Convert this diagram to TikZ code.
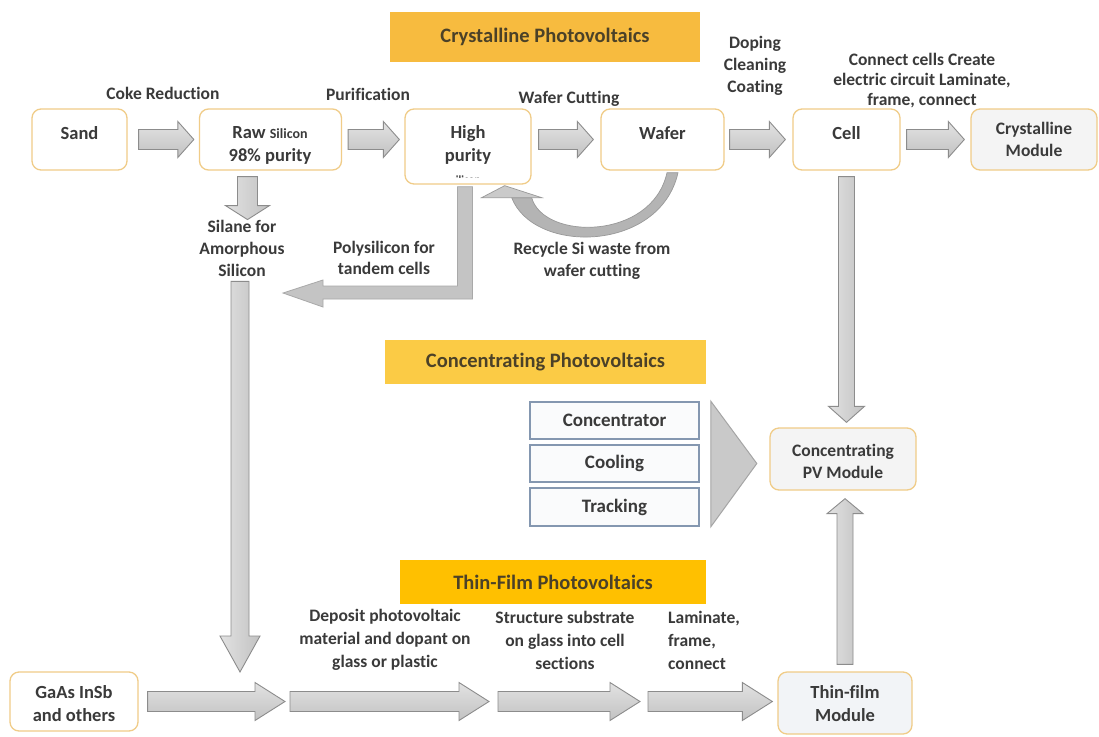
\documentclass[tikz,border=0pt]{standalone}
\usepackage{fontspec}
\setmainfont{Carlito}[Ligatures=NoCommon]
\usetikzlibrary{calc}
\definecolor{txt}{HTML}{3A3A3A}
\definecolor{boxline}{HTML}{F0CC88}
\definecolor{modfill}{HTML}{F4F4F4}
\definecolor{thinfill}{HTML}{F2F4F7}
\definecolor{arrtop}{HTML}{E2E2E2}
\definecolor{arrbot}{HTML}{C2C2C2}
\definecolor{arrline}{HTML}{8C8C8C}
\definecolor{banAcol}{HTML}{F7BB3F}
\definecolor{banBcol}{HTML}{FBCB45}
\definecolor{banCcol}{HTML}{FFC000}
\definecolor{bantxt}{HTML}{4B4128}
\definecolor{cpvline}{HTML}{8497B0}
\definecolor{cpvfill}{HTML}{FAFBFC}
\definecolor{trifill}{HTML}{C9C9C9}
\definecolor{triline}{HTML}{A5A5A5}
\definecolor{lfill}{HTML}{C4C4C4}
\definecolor{lline}{HTML}{A9A9A9}
\definecolor{recfill}{HTML}{B4B4B4}
\definecolor{recline}{HTML}{999999}
\definecolor{rechead}{HTML}{CACACA}

\tikzset{
 procbox/.style={draw=boxline, line width=1.3pt, rounded corners=9pt, fill=white, inner sep=0pt},
 modbox/.style={procbox, fill=modfill},
 boxtext/.style={font=\bfseries\fontsize{18.5}{23}\selectfont, text=txt, align=center, inner sep=0pt},
 lbl/.style={font=\bfseries\fontsize{17.5}{22}\selectfont, text=txt, align=center, inner sep=0pt},
 banner/.style={inner sep=0pt, font=\bfseries\fontsize{20.5}{24}\selectfont, text=bantxt},
 cpvbox/.style={draw=cpvline, line width=1.6pt, fill=cpvfill, inner sep=0pt, minimum width=169pt, font=\bfseries\fontsize{19}{22}\selectfont, text=txt},
 blockarrow/.style={draw=arrline, line width=0.9pt, line join=miter},
 hshade/.style={top color=arrtop, bottom color=arrbot},
 vshade/.style={left color=arrtop, right color=arrbot},
 ash/.code={\def\aSH{#1}}, ahh/.code={\def\aHH{#1}}, ahl/.code={\def\aHL{#1}},
 ags/.code={\def\aGS{#1}}, age/.code={\def\aGE{#1}},
 ash=10pt, ahh=18pt, ahl=16pt, ags=6pt, age=6pt,
 rarrow/.style={blockarrow, hshade, to path={let \p1=(\tikztostart), \p2=(\tikztotarget) in
   (\x1+\aGS,\y1+\aSH) -- (\x2-\aGE-\aHL,\y1+\aSH) -- (\x2-\aGE-\aHL,\y1+\aHH) -- (\x2-\aGE,\y1) -- (\x2-\aGE-\aHL,\y1-\aHH) -- (\x2-\aGE-\aHL,\y1-\aSH) -- (\x1+\aGS,\y1-\aSH) -- cycle}},
 darrow/.style={blockarrow, vshade, to path={let \p1=(\tikztostart), \p2=(\tikztotarget) in
   (\x1-\aSH,\y1-\aGS) -- (\x1-\aSH,\y2+\aGE+\aHL) -- (\x1-\aHH,\y2+\aGE+\aHL) -- (\x1,\y2+\aGE) -- (\x1+\aHH,\y2+\aGE+\aHL) -- (\x1+\aSH,\y2+\aGE+\aHL) -- (\x1+\aSH,\y1-\aGS) -- cycle}},
 uarrow/.style={blockarrow, vshade, to path={let \p1=(\tikztostart), \p2=(\tikztotarget) in
   (\x1-\aSH,\y1+\aGS) -- (\x1-\aSH,\y2-\aGE-\aHL) -- (\x1-\aHH,\y2-\aGE-\aHL) -- (\x1,\y2-\aGE) -- (\x1+\aHH,\y2-\aGE-\aHL) -- (\x1+\aSH,\y2-\aGE-\aHL) -- (\x1+\aSH,\y1+\aGS) -- cycle}},
}

\begin{document}
\begin{tikzpicture}[x=1pt,y=-1pt]
\useasboundingbox (0,0) rectangle (1099,736);
\fill[white] (0,0) rectangle (1099,736);

% banners
\node[banner, fill=banAcol, minimum width=310pt, minimum height=50pt] (b1) at (545,37) {Crystalline Photovoltaics};
\node[banner, fill=banBcol, minimum width=321pt, minimum height=44pt] (b2) at (545.5,362) {Concentrating Photovoltaics};
\node[banner, fill=banCcol, minimum width=306pt, minimum height=44pt] (b3) at (553,582) {Thin-Film Photovoltaics};

% top row boxes
\node[procbox, minimum width=95pt, minimum height=61pt] (sand) at (79.5,139.5) {};
\node[boxtext] (sandt) at (79.5,133) {Sand};
\node[procbox, minimum width=142pt, minimum height=61pt] (raw) at (270.5,139.5) {};
\node[boxtext] (rawt) at (270,145.5) {Raw {\fontsize{14}{16}\selectfont Silicon}\\98\% purity};
\node[procbox, minimum width=126pt, minimum height=75pt] (high) at (468,146.5) {};
\node[boxtext] (hight) at (468,145) {High\\purity};
\begin{scope}
\clip (455,169) rectangle (482,177);
\node[font=\bfseries\fontsize{11}{13}\selectfont, text=txt, inner sep=0pt] (hight3) at (466,180) {silicon};
\end{scope}
\node[procbox, minimum width=123pt, minimum height=61pt] (wafer) at (662.5,139.5) {};
\node[boxtext] (wafert) at (662.5,133) {Wafer};
\node[procbox, minimum width=107pt, minimum height=61pt] (cell) at (846.5,139.5) {};
\node[boxtext] (cellt) at (846.5,133) {Cell};
\node[modbox, minimum width=126pt, minimum height=61pt] (cryst) at (1034,139.5) {};
\node[boxtext, font=\bfseries\fontsize{17.5}{22}\selectfont] (crystt) at (1034,139) {Crystalline\\Module};

% top labels
\node[lbl] (coke) at (163,93) {Coke Reduction};
\node[lbl] (purif) at (368,94) {Purification};
\node[lbl] (wcut) at (569,99) {Wafer Cutting};
\node[lbl] (doping) at (755,66) {Doping\\Cleaning\\Coating};
\node[lbl, font=\bfseries\fontsize{17.5}{20}\selectfont] (connect) at (922,81) {Connect cells Create\\electric circuit Laminate,\\frame, connect};

% middle labels
\node[lbl] (silane) at (242,248) {Silane for\\Amorphous\\Silicon};
\node[lbl, font=\bfseries\fontsize{17.5}{21}\selectfont] (poly) at (384,258) {Polysilicon for\\tandem cells};
\node[lbl] (recyc) at (592,261) {Recycle Si waste from\\wafer cutting};

% CPV
\node[cpvbox, minimum height=37pt] (conc) at (614.5,420.5) {Concentrator};
\node[cpvbox, minimum height=37pt] (cool) at (614.5,463.5) {Cooling};
\node[cpvbox, minimum height=38pt] (track) at (614.5,507) {Tracking};
\draw[fill=trifill, draw=triline, line width=1pt] ($(conc.north east)+(11,0)$) -- ($(cool.east)+(57,0)$) -- ($(track.south east)+(11,0)$) -- cycle;
\node[modbox, minimum width=146pt, minimum height=62pt] (pv) at (843,459) {};
\node[boxtext, font=\bfseries\fontsize{17.5}{22}\selectfont] (pvt) at (843,461) {Concentrating\\PV Module};

% bottom
\node[procbox, minimum width=128pt, minimum height=59pt] (gaas) at (74,701.5) {};
\node[boxtext] (gaast) at (74,703.5) {GaAs InSb\\and others};
\node[procbox, fill=thinfill, minimum width=134pt, minimum height=62pt] (thin) at (845,703) {};
\node[boxtext] (thint) at (845,704) {Thin-film\\Module};
\node[lbl, font=\bfseries\fontsize{17.5}{23}\selectfont] (deposit) at (385,640) {Deposit photovoltaic\\material and dopant on\\glass or plastic};
\node[lbl, font=\bfseries\fontsize{17.5}{23}\selectfont] (struct) at (565,640) {Structure substrate\\on glass into cell\\sections};
\node[lbl, font=\bfseries\fontsize{17.5}{23}\selectfont, align=left, anchor=west] (lamin) at (668,640) {Laminate,\\frame,\\connect};

% coordinates
\coordinate (jd) at (240,672);
\coordinate (j1) at (288,701.5);
\coordinate (j2) at (494,701.5);
\coordinate (j3) at (645,701.5);
\coordinate (polyend) at (283,293);

% top arrows
\draw[rarrow, ags=11pt, age=5pt] (sand.east) to (raw.west);
\draw[rarrow, age=5pt] (raw.east) to (high.west |- raw.west);
\draw[rarrow, ags=7pt, age=7pt] (high.east |- wafer.west) to (wafer.west);
\draw[rarrow, ags=5pt, age=7pt] (wafer.east) to (cell.west);
\draw[rarrow] (cell.east) to (cryst.west);

% vertical arrows
\draw[darrow, ash=10pt, ahh=22pt, ahl=14pt, ags=6pt, age=0pt] ([xshift=-23pt]raw.south) to (silane.north);
\draw[darrow, ash=9pt, ahh=20pt, ahl=36pt, ags=5pt, age=0pt] ([xshift=-2pt]silane.south) to (jd);
\draw[darrow, ash=8pt, ahh=18pt, ahl=16pt, ags=6pt, age=5pt] (cell.south) to (pv.north);
\draw[uarrow, ash=8pt, ahh=18pt, ahl=15pt, ags=7pt, age=8pt] (thin.north) to (pv.south);

% bottom arrows
\draw[rarrow, ahh=19pt, ahl=30pt, ags=9pt, age=3pt] (gaas.east) to (j1);
\draw[rarrow, ahh=19pt, ahl=30pt, ags=2pt, age=5pt] (j1) to (j2);
\draw[rarrow, ahh=19pt, ahl=30pt, ags=4pt, age=5pt] (j2) to (j3);
\draw[rarrow, ahh=19pt, ahl=30pt, ags=3pt, age=5pt] (j3) to (thin.west);

% L-shaped arrow: polysilicon for tandem cells
\draw[fill=lfill, draw=lline, line width=0.8pt, line join=miter]
  ($(high.south)+(-10.5,2)$) -- ($(high.south)+(4.5,2)$) -- ($(high.south |- polyend)+(4.5,6)$)
  -- ($(polyend)+(40,6)$) -- ($(polyend)+(40,14)$) -- (polyend) -- ($(polyend)+(40,-13)$)
  -- ($(polyend)+(40,-7)$) -- ($(high.south |- polyend)+(-10.5,-7)$) -- cycle;

% recycle curved arrow
\draw[fill=recfill, draw=recline, line width=0.7pt]
  ($(high.south east)+(-20,13)$) .. controls ($(high.south east)+(2,70)$) and ($(wafer.south)+(-2.5,82)$) .. ($(wafer.south)+(15.5,2)$)
  -- ($(wafer.south)+(4.5,2)$) .. controls ($(wafer.south)+(-10.5,70)$) and ($(high.south east)+(12,56)$) .. ($(high.south east)+(0,13)$) -- cycle;
\draw[fill=rechead, draw=recline, line width=0.7pt]
  ($(high.south east)+(-50,13)$) -- ($(high.south east)+(10,13)$) -- ($(high.south east)+(-27,1)$) -- cycle;
\end{tikzpicture}
\end{document}
